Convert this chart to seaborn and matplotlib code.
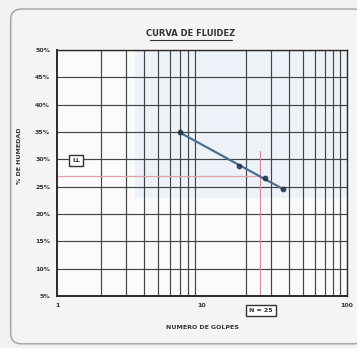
import numpy as np
import pandas as pd
import matplotlib
matplotlib.use("Agg")
import matplotlib.pyplot as plt
import matplotlib.ticker as mticker
from matplotlib.patches import FancyBboxPatch, Rectangle
from matplotlib.lines import Line2D
import seaborn as sns

# Ensayo de limite liquido (Casagrande)
golpes = [7, 18, 27, 36]
humedad = [35.0, 28.8, 26.6, 24.6]
y_ticks = [5, 10, 15, 20, 25, 30, 35, 40, 45, 50]
x_ticks = [1, 10, 100]
x_grid = [2, 3, 4, 5, 6, 7, 8, 9, 20, 30, 40, 50, 60, 70, 80, 90]
n_ref = 25

titulo = "CURVA DE FLUIDEZ"
etiqueta_x = "NUMERO DE GOLPES"
etiqueta_y = "% DE HUMEDAD"
etiqueta_ll = "LL"
etiqueta_n = "N = 25"

df = pd.DataFrame({"golpes": golpes, "humedad": humedad})

sns.set_theme(style="white")
plt.rcParams["font.family"] = ["DejaVu Sans"]

fig = plt.figure(figsize=(3.57, 3.48), dpi=100, facecolor="#f1f1f1")
ax = fig.add_axes([0.160, 0.149, 0.812, 0.707])
ax.set_facecolor("#fbfbfb")

# rounded outer frame
frame = FancyBboxPatch((0.03, 0.012), 0.99, 0.962, boxstyle="round,pad=0,rounding_size=0.03",
                       transform=fig.transFigure, facecolor="#f4f4f4", edgecolor="#a0a0a0",
                       linewidth=1.0, zorder=-10)
fig.patches.append(frame)

# faint bluish tint on the upper right of the sheet
ax.add_patch(Rectangle((0.27, 0.40), 0.73, 0.62, transform=ax.transAxes,
                       facecolor="#d6e6f1", alpha=0.4, edgecolor="none", zorder=0))

ax.set_xscale("log")
ax.set_xlim(1, 100)
ax.set_ylim(5, 50)

# grid
for gx in x_grid:
    ax.axvline(gx, color="#444444", linewidth=0.85, zorder=1)
for gy in y_ticks:
    ax.axhline(gy, color="#444444", linewidth=0.85, zorder=1)

# flow curve: y ~ log(x)
sns.regplot(data=df, x="golpes", y="humedad", logx=True, ci=None, ax=ax,
            scatter_kws=dict(s=10, color="#1f2d44", zorder=4, marker="s"),
            line_kws=dict(color="#4f6f8f", linewidth=1.6, zorder=3))

pend, inter = np.polyfit(np.log10(golpes), humedad, 1)
ll = pend * np.log10(n_ref) + inter

ax.plot([1, n_ref], [ll, ll], color="#e2a0a6", linewidth=0.9, zorder=2)
ax.plot([n_ref, n_ref], [5, 31.5], color="#d88a92", linewidth=0.9, zorder=2)

ax.set_xticks(x_ticks)
ax.xaxis.set_major_formatter(mticker.FuncFormatter(lambda v, p: f"{v:g}"))
ax.xaxis.set_minor_locator(mticker.NullLocator())
ax.set_yticks(y_ticks)
ax.yaxis.set_major_formatter(mticker.FuncFormatter(lambda v, p: f"{v:g}%"))
ax.tick_params(axis="both", labelsize=4.5, length=0, pad=5, colors="#333333")
for lab in ax.get_xticklabels() + ax.get_yticklabels():
    lab.set_fontweight("bold")

ax.set_xlabel(etiqueta_x, fontsize=4.5, fontweight="bold", color="#333333", labelpad=12)
ax.set_ylabel(etiqueta_y, fontsize=4.5, fontweight="bold", color="#333333")
ax.yaxis.set_label_coords(-0.12, 0.57)

for s in ax.spines.values():
    s.set_color("#2a2a2a")
    s.set_linewidth(1.0)
    s.set_visible(True)
ax.spines["left"].set_linewidth(1.4)
ax.spines["bottom"].set_linewidth(1.4)

# title with underline
fig.text(0.535, 0.903, titulo, ha="center", va="center", fontsize=6, fontweight="bold", color="#333333")
fig.add_artist(Line2D([0.42, 0.65], [0.886, 0.886], transform=fig.transFigure, color="#333333", linewidth=0.8))

box = dict(boxstyle="square,pad=0.5", facecolor="white", edgecolor="#333333", linewidth=1.0)
ax.text(0.066, 0.55, etiqueta_ll, transform=ax.transAxes, ha="center", va="center",
        fontsize=4.5, fontweight="bold", color="#333333", bbox=box, zorder=5)
ax.text(0.703, -0.057, etiqueta_n, transform=ax.transAxes, ha="center", va="center",
        fontsize=4.5, fontweight="bold", color="#333333", bbox=box, zorder=5, clip_on=False)

fig.savefig("out.png", dpi=100, facecolor=fig.get_facecolor())
